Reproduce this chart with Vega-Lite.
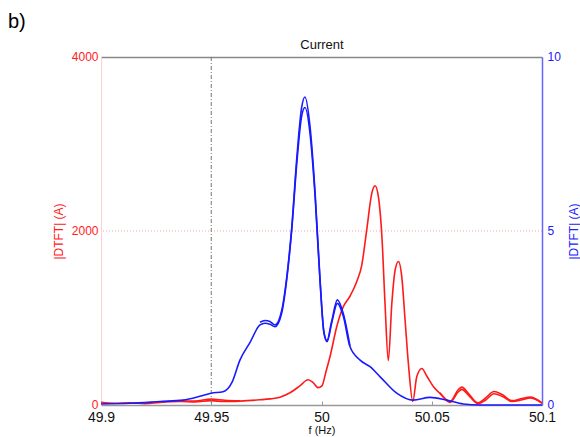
{
  "$schema": "https://vega.github.io/schema/vega-lite/v6.json",
  "width": 441,
  "height": 348,
  "autosize": "none",
  "padding": {"left": 101, "top": 57, "right": 38, "bottom": 32},
  "background": "white",
  "config": {"view": {"stroke": null}, "font": "Liberation Sans"},
  "title": {"text": "b)", "anchor": "start", "frame": "group", "dx": -93, "offset": 6, "fontSize": 20, "fontWeight": "normal", "font": "Liberation Sans", "color": "black"},
  "datasets": {
    "red": [
      {"f": 49.9, "a": 30, "r": "r1"}, {"f": 49.9063, "a": 20, "r": "r1"}, {"f": 49.9132, "a": 25, "r": "r1"}, {"f": 49.92, "a": 15, "r": "r1"},
      {"f": 49.9268, "a": 30, "r": "r1"}, {"f": 49.9358, "a": 40, "r": "r1"}, {"f": 49.9426, "a": 35, "r": "r1"}, {"f": 49.9499, "a": 50, "r": "r1"},
      {"f": 49.9562, "a": 40, "r": "r1"}, {"f": 49.963, "a": 45, "r": "r1"}, {"f": 49.9721, "a": 60, "r": "r1"}, {"f": 49.9766, "a": 70, "r": "r1"},
      {"f": 49.9812, "a": 90, "r": "r1"}, {"f": 49.9857, "a": 140, "r": "r1"}, {"f": 49.9902, "a": 220, "r": "r1"}, {"f": 49.9939, "a": 290, "r": "r1"},
      {"f": 49.9961, "a": 260, "r": "r1"}, {"f": 49.9984, "a": 200, "r": "r1"}, {"f": 50.0002, "a": 220, "r": "r1"}, {"f": 50.002, "a": 380, "r": "r1"},
      {"f": 50.0039, "a": 560, "r": "r1"}, {"f": 50.0069, "a": 900, "r": "r1"}, {"f": 50.0099, "a": 1130, "r": "r1"}, {"f": 50.0129, "a": 1250, "r": "r1"},
      {"f": 50.016, "a": 1420, "r": "r1"}, {"f": 50.0182, "a": 1600, "r": "r1"}, {"f": 50.0205, "a": 2011, "r": "r1"}, {"f": 50.0228, "a": 2433, "r": "r1"},
      {"f": 50.0243, "a": 2520, "r": "r1"}, {"f": 50.0258, "a": 2394, "r": "r1"}, {"f": 50.0274, "a": 1934, "r": "r1"}, {"f": 50.0288, "a": 1169, "r": "r1"},
      {"f": 50.0303, "a": 510, "r": "r1"}, {"f": 50.0319, "a": 1169, "r": "r1"}, {"f": 50.0334, "a": 1552, "r": "r1"}, {"f": 50.0349, "a": 1650, "r": "r1"},
      {"f": 50.0364, "a": 1475, "r": "r1"}, {"f": 50.0379, "a": 977, "r": "r1"}, {"f": 50.0394, "a": 479, "r": "r1"}, {"f": 50.0414, "a": 40, "r": "r1"},
      {"f": 50.0432, "a": 325, "r": "r1"}, {"f": 50.0455, "a": 420, "r": "r1"}, {"f": 50.0478, "a": 330, "r": "r1"}, {"f": 50.0508, "a": 210, "r": "r1"},
      {"f": 50.0537, "a": 134, "r": "r1"}, {"f": 50.0583, "a": 30, "r": "r1"}, {"f": 50.062, "a": 150, "r": "r1"}, {"f": 50.0637, "a": 180, "r": "r1"},
      {"f": 50.0664, "a": 120, "r": "r1"}, {"f": 50.071, "a": 15, "r": "r1"}, {"f": 50.0746, "a": 60, "r": "r1"}, {"f": 50.0782, "a": 130, "r": "r1"},
      {"f": 50.0819, "a": 100, "r": "r1"}, {"f": 50.0864, "a": 40, "r": "r1"}, {"f": 50.091, "a": 60, "r": "r1"}, {"f": 50.0946, "a": 80, "r": "r1"},
      {"f": 50.1, "a": 20, "r": "r1"},
      {"f": 50.0537, "a": 140, "r": "r2"}, {"f": 50.0583, "a": 40, "r": "r2"}, {"f": 50.062, "a": 175, "r": "r2"}, {"f": 50.0637, "a": 205, "r": "r2"},
      {"f": 50.0664, "a": 140, "r": "r2"}, {"f": 50.071, "a": 25, "r": "r2"}, {"f": 50.0746, "a": 85, "r": "r2"}, {"f": 50.0782, "a": 155, "r": "r2"},
      {"f": 50.0819, "a": 120, "r": "r2"}, {"f": 50.0864, "a": 50, "r": "r2"}, {"f": 50.091, "a": 75, "r": "r2"}, {"f": 50.0946, "a": 90, "r": "r2"},
      {"f": 50.1, "a": 25, "r": "r2"},
      {"f": 49.9358, "a": 45, "r": "r3"}, {"f": 49.9426, "a": 45, "r": "r3"}, {"f": 49.9499, "a": 68, "r": "r3"}, {"f": 49.9562, "a": 55, "r": "r3"}, {"f": 49.963, "a": 48, "r": "r3"}
    ],
    "blue": [
      {"f": 49.9, "a": 0.03, "r": "b1"}, {"f": 49.9132, "a": 0.05, "r": "b1"}, {"f": 49.9268, "a": 0.1, "r": "b1"}, {"f": 49.9372, "a": 0.14, "r": "b1"},
      {"f": 49.9449, "a": 0.25, "r": "b1"}, {"f": 49.9499, "a": 0.34, "r": "b1"}, {"f": 49.9553, "a": 0.38, "r": "b1"}, {"f": 49.9594, "a": 0.65, "r": "b1"},
      {"f": 49.963, "a": 1.29, "r": "b1"}, {"f": 49.9676, "a": 1.8, "r": "b1"}, {"f": 49.9721, "a": 2.3, "r": "b1"}, {"f": 49.9744, "a": 2.35, "r": "b1"},
      {"f": 49.9766, "a": 2.32, "r": "b1"}, {"f": 49.9789, "a": 2.25, "r": "b1"}, {"f": 49.9819, "a": 2.63, "r": "b1"}, {"f": 49.9842, "a": 3.59, "r": "b1"},
      {"f": 49.9865, "a": 5.03, "r": "b1"}, {"f": 49.9888, "a": 6.95, "r": "b1"}, {"f": 49.991, "a": 8.3, "r": "b1"}, {"f": 49.9925, "a": 8.55, "r": "b1"},
      {"f": 49.9948, "a": 7.8, "r": "b1"}, {"f": 49.9971, "a": 5.99, "r": "b1"}, {"f": 49.9993, "a": 3.59, "r": "b1"}, {"f": 50.0011, "a": 2.07, "r": "b1"},
      {"f": 50.0025, "a": 1.82, "r": "b1"}, {"f": 50.0046, "a": 2.35, "r": "b1"}, {"f": 50.0072, "a": 2.92, "r": "b1"}, {"f": 50.0099, "a": 2.55, "r": "b1"},
      {"f": 50.0129, "a": 1.68, "r": "b1"}, {"f": 50.0175, "a": 1.29, "r": "b1"}, {"f": 50.022, "a": 1.1, "r": "b1"}, {"f": 50.0266, "a": 0.81, "r": "b1"},
      {"f": 50.0341, "a": 0.34, "r": "b1"}, {"f": 50.0416, "a": 0.14, "r": "b1"}, {"f": 50.0492, "a": 0.22, "r": "b1"}, {"f": 50.0568, "a": 0.14, "r": "b1"},
      {"f": 50.0643, "a": 0.03, "r": "b1"}, {"f": 50.0719, "a": 0.0, "r": "b1"}, {"f": 50.1, "a": 0.0, "r": "b1"},
      {"f": 49.9721, "a": 2.38, "r": "b2"}, {"f": 49.9744, "a": 2.43, "r": "b2"}, {"f": 49.9766, "a": 2.4, "r": "b2"}, {"f": 49.9789, "a": 2.3, "r": "b2"},
      {"f": 49.9819, "a": 2.7, "r": "b2"}, {"f": 49.9842, "a": 3.65, "r": "b2"}, {"f": 49.9865, "a": 5.1, "r": "b2"}, {"f": 49.9888, "a": 7.1, "r": "b2"},
      {"f": 49.991, "a": 8.55, "r": "b2"}, {"f": 49.9925, "a": 8.85, "r": "b2"}, {"f": 49.9948, "a": 8.0, "r": "b2"}, {"f": 49.9971, "a": 6.1, "r": "b2"},
      {"f": 49.9993, "a": 3.65, "r": "b2"}, {"f": 50.0011, "a": 2.1, "r": "b2"}, {"f": 50.0025, "a": 1.85, "r": "b2"}, {"f": 50.0046, "a": 2.4, "r": "b2"},
      {"f": 50.0072, "a": 3.02, "r": "b2"}, {"f": 50.0099, "a": 2.62, "r": "b2"}, {"f": 50.0129, "a": 1.7, "r": "b2"}
    ],
    "vgrid": [{"f": 49.95}],
    "hgrid": [{"a": 2000}]
  },
  "layer": [
    {
      "data": {"name": "red"},
      "mark": {"type": "line", "color": "#ff1a1a", "strokeWidth": 1.6, "interpolate": "monotone"},
      "encoding": {
        "x": {"field": "f", "type": "quantitative", "scale": {"domain": [49.9, 50.1], "nice": false},
          "axis": {"orient": "bottom", "title": "f (Hz)", "values": [49.9, 49.95, 50, 50.05, 50.1], "format": "~g", "grid": false,
            "domainColor": "#999", "domainWidth": 1.5, "tickColor": "#999", "tickSize": -4, "labelPadding": 9,
            "labelFont": "Liberation Sans", "labelFontSize": 14, "labelColor": "#111", "labelFlush": false,
            "titleFont": "Liberation Sans", "titleFontSize": 11, "titleFontWeight": "normal", "titleColor": "#111", "titlePadding": 0}},
        "y": {"field": "a", "type": "quantitative", "scale": {"domain": [0, 4000], "nice": false},
          "axis": {"orient": "left", "title": "|DTFT| (A)", "values": [0, 2000, 4000], "format": "d", "grid": false, "ticks": false,
            "domainColor": "#ffd0d0", "labelColor": "#ff2020", "labelFont": "Liberation Sans", "labelFontSize": 12, "labelPadding": 3, "labelOffset": -1,
            "titleColor": "#ff2020", "titleFont": "Liberation Sans", "titleFontSize": 12, "titleFontWeight": "normal", "titlePadding": 6}},
        "detail": {"field": "r", "type": "nominal"}
      }
    },
    {
      "data": {"name": "vgrid"},
      "mark": {"type": "rule", "color": "#777", "strokeDash": [4, 2, 1, 2], "strokeWidth": 1},
      "encoding": {"x": {"field": "f", "type": "quantitative", "scale": {"domain": [49.9, 50.1], "nice": false}, "axis": null}}
    },
    {
      "data": {"name": "hgrid"},
      "mark": {"type": "rule", "color": "#ff6666", "strokeDash": [1, 2], "strokeWidth": 1, "opacity": 0.6},
      "encoding": {"y": {"field": "a", "type": "quantitative", "scale": {"domain": [0, 4000], "nice": false}, "axis": null}}
    },
    {
      "data": {"name": "blue"},
      "mark": {"type": "line", "color": "#1a1aff", "strokeWidth": 1.6, "interpolate": "monotone"},
      "encoding": {
        "x": {"field": "f", "type": "quantitative", "scale": {"domain": [49.9, 50.1], "nice": false},
          "axis": {"orient": "top", "title": "Current", "labels": false, "ticks": false, "grid": false, "domainColor": "#888", "domainWidth": 1.5,
            "titleFont": "Liberation Sans", "titleFontSize": 13, "titleFontWeight": "normal", "titleColor": "#111", "titlePadding": 6}},
        "y": {"field": "a", "type": "quantitative", "scale": {"domain": [0, 10], "nice": false},
          "axis": {"orient": "right", "title": "|DTFT| (A)", "values": [0, 5, 10], "grid": false, "ticks": false,
            "domainColor": "#6666ff", "domainWidth": 1.5, "labelColor": "#2020ff", "labelFont": "Liberation Sans", "labelFontSize": 12, "labelPadding": 5, "labelOffset": -1,
            "titleColor": "#2020ff", "titleFont": "Liberation Sans", "titleFontSize": 12, "titleFontWeight": "normal", "titleAngle": -90, "titlePadding": 20}},
        "detail": {"field": "r", "type": "nominal"}
      }
    }
  ],
  "resolve": {"scale": {"y": "independent"}, "axis": {"y": "independent", "x": "independent"}}
}
